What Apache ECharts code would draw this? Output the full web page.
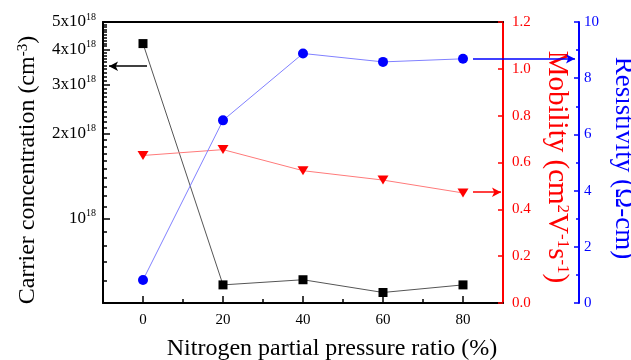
<!DOCTYPE html>
<html>
<head>
<meta charset="utf-8">
<script src="https://cdn.jsdelivr.net/npm/echarts@6/dist/echarts.min.js"></script>
<style>
  html, body { margin: 0; padding: 0; background: #fff; }
  #Chart { width: 631px; height: 360px; }
</style>
</head>
<body>
<div id="Chart"></div>
<script>
// data
const pressure = [0, 20, 40, 60, 80]
const carrier = [4.19e18, 5.8e17, 6.05e17, 5.45e17, 5.8e17]
const mobility = [0.63, 0.655, 0.565, 0.525, 0.47]
const resistivity = [0.82, 6.5, 8.88, 8.58, 8.69]

const xTicks = [0, 20, 40, 60, 80]
const xMinorTicks = [10, 30, 50, 70]
const carrierTicks = [1e18, 2e18, 3e18, 4e18, 5e18]
const carrierMinorTicks = [6e17, 7e17, 8e17, 9e17,
    1.1e18, 1.2e18, 1.3e18, 1.4e18, 1.5e18, 1.6e18, 1.7e18, 1.8e18, 1.9e18,
    2.1e18, 2.2e18, 2.3e18, 2.4e18, 2.5e18, 2.6e18, 2.7e18, 2.8e18, 2.9e18,
    3.1e18, 3.2e18, 3.3e18, 3.4e18, 3.5e18, 3.6e18, 3.7e18, 3.8e18, 3.9e18,
    4.1e18, 4.2e18, 4.3e18, 4.4e18, 4.5e18, 4.6e18, 4.7e18, 4.8e18, 4.9e18]

const FONT = "Liberation Serif"
const RED = "#ff0000"
const BLUE = "#0000ff"

let chart = echarts.init(document.getElementById("Chart"))

let options = {
    animation: false,
    textStyle: { fontFamily: FONT },
    grid: { left: 103, right: 128, top: 22, bottom: 57, containLabel: false, outerBoundsMode: "none" },
    xAxis: [
        {
            type: "value", position: "bottom", min: -10, max: 90,
            name: "Nitrogen partial pressure ratio (%)",
            nameLocation: "middle", nameGap: 34,
            nameTextStyle: { fontFamily: FONT, fontSize: 24, color: "#000", padding: [0, 0, 0, 58] },
            axisLine: { show: true, onZero: false, lineStyle: { color: "#000", width: 2 } },
            axisTick: { show: true, inside: true, length: 7, customValues: xTicks, lineStyle: { color: "#000", width: 1.5 } },
            axisLabel: { customValues: xTicks, margin: 10, fontFamily: FONT, fontSize: 15, color: "#000" },
            splitLine: { show: false }
        },
        {
            // minor ticks on the bottom axis
            type: "value", position: "bottom", min: -10, max: 90,
            axisLine: { show: false, onZero: false },
            axisTick: { show: true, inside: true, length: 4, customValues: xMinorTicks, lineStyle: { color: "#000", width: 1.5 } },
            axisLabel: { show: false },
            splitLine: { show: false }
        },
        {
            // top frame
            type: "value", position: "top", min: -10, max: 90,
            axisLine: { show: true, onZero: false, lineStyle: { color: "#000", width: 2 } },
            axisTick: { show: false },
            axisLabel: { show: false },
            splitLine: { show: false }
        }
    ],
    yAxis: [
        {
            type: "log", logBase: 10, position: "left", min: 5e17, max: 5.001e18,
            name: "Carrier concentration (cm{s|-3})",
            nameLocation: "middle", nameGap: 63,
            nameTextStyle: {
                fontFamily: FONT, fontSize: 24, color: "#000", padding: [0, 15, 0, 0],
                rich: { s: { fontFamily: FONT, fontSize: 15, verticalAlign: "top", lineHeight: 13, color: "#000" } }
            },
            axisLine: { show: true, onZero: false, lineStyle: { color: "#000", width: 2 } },
            axisTick: { show: true, inside: true, length: 7, customValues: carrierTicks, lineStyle: { color: "#000", width: 1.5 } },
            axisLabel: {
                customValues: carrierTicks, margin: 7,
                formatter: function (v) {
                    let m = Math.round(v / 1e17) / 10
                    return m === 1 ? "{b|10}{s|18}" : "{b|" + m + "x10}{s|18}"
                },
                rich: {
                    b: { fontFamily: FONT, fontSize: 17, color: "#000", lineHeight: 20 },
                    s: { fontFamily: FONT, fontSize: 10, color: "#000", lineHeight: 11, verticalAlign: "top" }
                }
            },
            splitLine: { show: false }
        },
        {
            // minor ticks of the log axis
            type: "log", logBase: 10, position: "left", min: 5e17, max: 5.001e18,
            axisLine: { show: false, onZero: false },
            axisTick: { show: true, inside: true, length: 4, customValues: carrierMinorTicks, lineStyle: { color: "#000", width: 1.5 } },
            axisLabel: { show: false },
            splitLine: { show: false }
        },
        {
            type: "value", position: "right", min: 0, max: 1.2, interval: 0.2,
            name: "Mobility (cm{s|2}V{s|-1}s{s|-1})",
            nameLocation: "middle", nameGap: 27, nameRotate: -90,
            nameTextStyle: {
                fontFamily: FONT, fontSize: 29, color: RED, padding: [0, 0, 0, 9],
                rich: { s: { fontFamily: FONT, fontSize: 17, verticalAlign: "top", lineHeight: 15, color: RED } }
            },
            axisLine: { show: true, onZero: false, lineStyle: { color: RED, width: 2 } },
            axisTick: { show: true, inside: true, length: 5, lineStyle: { color: RED, width: 1.5 } },
            axisLabel: { margin: 9, fontFamily: FONT, fontSize: 15, color: RED, formatter: v => v.toFixed(1) },
            splitLine: { show: false }
        },
        {
            type: "value", position: "right", offset: 76, min: 0, max: 10, interval: 2,
            name: "Resistivity (Ω-cm)",
            nameLocation: "middle", nameGap: 27, nameRotate: -90,
            nameTextStyle: { fontFamily: FONT, fontSize: 27, color: BLUE, padding: [0, 9, 0, 0] },
            axisLine: { show: true, onZero: false, lineStyle: { color: BLUE, width: 2 } },
            axisTick: { show: true, inside: true, length: 5, lineStyle: { color: BLUE, width: 1.5 } },
            minorTick: { show: true, splitNumber: 2, length: 3, lineStyle: { color: BLUE, width: 1.5 } },
            axisLabel: { margin: 5, fontFamily: FONT, fontSize: 15, color: BLUE },
            splitLine: { show: false }
        }
    ],
    series: [
        {
            name: "Carrier", type: "line", xAxisIndex: 0, yAxisIndex: 0,
            data: pressure.map((x, i) => [x, carrier[i]]),
            symbol: "rect", symbolSize: 9,
            itemStyle: { color: "#000" },
            lineStyle: { color: "#555", width: 1 },
            markLine: {
                silent: true, symbol: ["none", "arrow"], symbolSize: [7, 9],
                label: { show: false },
                lineStyle: { color: "#000", width: 1.5, type: "solid" },
                data: [[{ coord: [1, 3.48e18] }, { coord: [-8.5, 3.48e18] }]]
            }
        },
        {
            name: "Mobility", type: "line", xAxisIndex: 0, yAxisIndex: 2,
            data: pressure.map((x, i) => [x, mobility[i]]),
            symbol: "triangle", symbolRotate: 180, symbolSize: [11, 9],
            itemStyle: { color: RED },
            lineStyle: { color: "#ff7a7a", width: 1 },
            markLine: {
                silent: true, symbol: ["none", "arrow"], symbolSize: [7, 9],
                label: { show: false },
                lineStyle: { color: RED, width: 1.5, type: "solid" },
                data: [[{ coord: [82.5, 0.473] }, { coord: [89.5, 0.473] }]]
            }
        },
        {
            name: "Resistivity", type: "line", xAxisIndex: 0, yAxisIndex: 3,
            data: pressure.map((x, i) => [x, resistivity[i]]),
            symbol: "circle", symbolSize: 10,
            itemStyle: { color: BLUE },
            lineStyle: { color: "#8080ff", width: 1 },
            z: 3
        }
    ]
}

chart.setOption(options)

// the blue arrow runs out past the plot to the resistivity axis
let p0 = chart.convertToPixel({ xAxisIndex: 0, yAxisIndex: 3 }, [82.5, 8.69])
let axisX = chart.convertToPixel({ xAxisIndex: 0 }, 90) + 76
chart.setOption({
    series: [{}, {}, {
        markLine: {
            silent: true, symbol: ["none", "arrow"], symbolSize: [7, 9],
            label: { show: false },
            lineStyle: { color: BLUE, width: 1.5, type: "solid" },
            data: [[{ x: p0[0], y: p0[1] }, { x: axisX - 4, y: p0[1] }]]
        }
    }]
})
</script>
</body>
</html>
